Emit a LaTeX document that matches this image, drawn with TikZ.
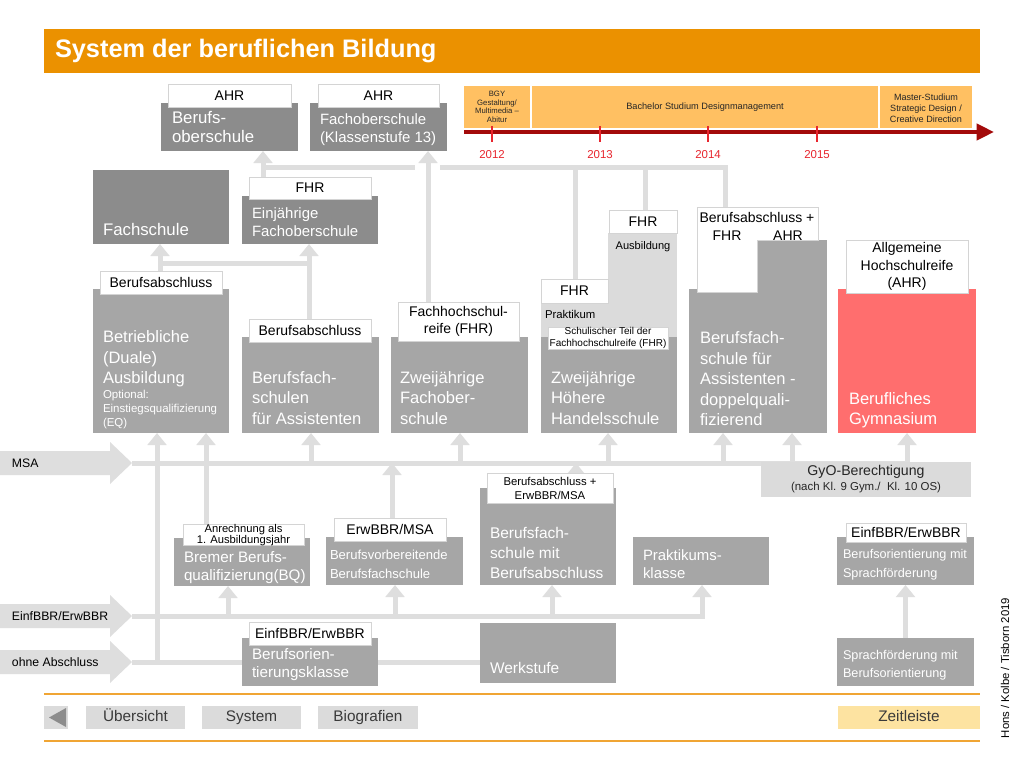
\documentclass[tikz,border=0pt]{standalone}
\usepackage{fontspec}
\setmainfont{Liberation Sans}
\usetikzlibrary{arrows.meta}
\definecolor{dgray}{HTML}{8C8C8C}
\definecolor{mgray}{HTML}{A6A6A6}
\definecolor{lgray}{HTML}{DBDBDB}
\definecolor{lnc}{HTML}{DEDEDE}
\definecolor{bord}{HTML}{D4D4D4}
\definecolor{gymred}{HTML}{FF6E6E}
\definecolor{titor}{HTML}{EB9100}
\definecolor{tlor}{HTML}{FFC062}
\definecolor{dred}{HTML}{A30A0A}
\definecolor{yr}{HTML}{E8262E}
\definecolor{sepc}{HTML}{F0A534}
\definecolor{zeit}{HTML}{FDE3A1}
\definecolor{navtxt}{HTML}{3A3A3A}
\pgfdeclarelayer{back}
\pgfdeclarelayer{bg}
\pgfsetlayers{back,bg,main}
\newcommand\fsz[2]{\fontsize{#1}{#2}\selectfont}
\newcommand\mybox[6][]{\node[anchor=north west, minimum width={(#5-#3)*0.75pt}, minimum height={(#6-#4)*0.75pt}, #1] (#2) at (#3,#4) {};}
\newcommand\mylab[7][]{\node[lbl, anchor=north west, minimum width={(#5-#3)*0.75pt}, minimum height={(#6-#4)*0.75pt}, #1] (#2) at (#3,#4) {#7};}
\tikzset{
  wt/.style={text=white, align=left, anchor=west},
  bigt/.style={wt, font=\fsz{12.4}{15.4}},
  lbl/.style={fill=white, draw=bord, line width=0.75pt, align=center, font=\fsz{10.5}{12.8}},
  gline/.style={draw=lnc, line width=3.75pt},
  garrow/.style={draw=lnc, line width=3.75pt, -{Triangle[width=14pt,length=9pt]}},
  bigarrow/.style={fill=lnc},
  navbtn/.style={lbl, fill=lgray, draw=none, text=navtxt, font=\fsz{11.5}{13}, text height=8.6pt, text depth=2.4pt}
}
\begin{document}
\begin{tikzpicture}[x=0.75pt, y=-0.75pt, every node/.style={inner sep=0pt, outer sep=0pt}]
\useasboundingbox (0,0) rectangle (1024,768);
\begin{pgfonlayer}{back}
\fill[white] (0,0) rectangle (1024,768);
\end{pgfonlayer}

% title
\mybox[fill=titor]{title}{44}{29}{980}{73}
\node[anchor=west, text=white, font=\bfseries\fsz{19}{22}] (titletxt) at (55,51) {System der beruflichen Bildung};

% top row
\mybox[fill=dgray]{bos}{161}{103}{298}{151}
\mylab{ahrA}{168}{84}{291}{107}{AHR}
\node[wt, font=\fsz{12.6}{14.3}] (bost) at (172,127) {Berufs-\\oberschule};
\mybox[fill=dgray]{fos13}{310}{103}{447}{151}
\mylab{ahrB}{318}{84}{439}{107}{AHR}
\node[wt, font=\fsz{11.2}{13.5}] (fos13t) at (320,130) {Fachoberschule\\(Klassenstufe 13)};
\mybox[fill=dgray]{fs}{93}{170}{229}{244}
\node[wt, font=\fsz{12.6}{15}] (fst) at (103,229) {Fachschule};
\mybox[fill=dgray]{ejf}{242}{196}{378}{244}
\mylab{fhrA}{249}{177}{371}{199}{FHR}
\node[wt, font=\fsz{11.2}{13.5}] (ejft) at (252,222) {Einjährige\\Fachoberschule};

% timeline
\mybox[fill=tlor]{bgy}{464}{86}{530}{128}
\node[font=\fsz{5.8}{6.5}, align=center, text=black!85] (bgyt) at (497,107) {BGY\\Gestaltung/\\Multimedia --\\Abitur};
\mybox[fill=tlor]{bach}{532}{86}{878}{128}
\node[font=\fsz{6.9}{8}, text=black!85] (bacht) at (705,107) {Bachelor Studium Designmanagement};
\mybox[fill=tlor]{mast}{880}{86}{972}{128}
\node[font=\fsz{6.8}{8.2}, align=center, text=black!85] (mastt) at (926,108) {Master-Studium\\Strategic Design /\\Creative Direction};
\coordinate (tla) at (464,132);
\coordinate (tlb) at (994,132);
\draw[dred, line width=3pt, -{Triangle[width=12pt,length=13pt]}] (tla) -- (tlb);
\foreach \xx/\yy in {492/2012, 600/2013, 708/2014, 817/2015}{
  \draw[yr, line width=1.5pt] (\xx,126) -- (\xx,142);
  \node[text=yr, font=\fsz{8.6}{10}] (yr\yy) at (\xx,155) {\yy};
}

% middle row
\mybox[fill=mgray]{bda}{93}{289}{229}{433}
\mylab{baA}{100}{271}{222}{294}{Berufsabschluss}
\node[bigt] (bdat) at (103,359) {Betriebliche\\(Duale)\\Ausbildung};
\node[wt, font=\fsz{8.6}{10.5}] (bdas) at (103,410) {Optional:\\Einstiegsqualifizierung\\(EQ)};

\mybox[fill=mgray]{bfsa}{242}{337}{379}{433}
\mylab{baB}{249}{319}{371}{342}{Berufsabschluss}
\node[bigt] (bfsat) at (252,398) {Berufsfach-\\schulen\\für Assistenten};

\mybox[fill=mgray]{zfos}{391}{337}{528}{433}
\mylab{fhrB}{398}{302}{519}{341}{Fachhochschul-\\reife (FHR)}
\node[bigt] (zfost) at (400,398) {Zweijährige\\Fachober-\\schule};

\mybox[fill=lgray]{prak}{541}{303}{608}{337}
\mybox[fill=lgray]{ausb}{608}{233}{677}{337}
\mylab{fhrC}{541}{279}{608}{303}{FHR}
\mylab{fhrD}{609}{210}{677}{233}{FHR}
\node[font=\fsz{8.5}{10}, anchor=west] (prakt) at (545,314) {Praktikum};
\node[font=\fsz{8.3}{10}] (ausbt) at (643,247) {Ausbildung};
\mybox[fill=mgray]{hhs}{541}{337}{677}{433}
\mylab[font=\fsz{7.5}{8.6}]{stl}{548}{327}{668}{349}{Schulischer Teil der\\Fachhochschulreife (FHR)}
\node[bigt] (hhst) at (551,398) {Zweijährige\\Höhere\\Handelsschule};

\mybox[fill=mgray]{bfsd}{689}{289}{827}{433}
\mybox[fill=mgray]{bfsdb}{757}{240}{827}{290}
\path[fill=white, draw=bord, line width=0.75pt] (697,207) -- (818,207) -- (818,240) -- (757,240) -- (757,292) -- (697,292) -- cycle;
\coordinate (bfsdtop) at (725,207);
\node[font=\fsz{10.5}{12}] (bfsdl1) at (757,217) {Berufsabschluss +};
\node[font=\fsz{10.5}{12}] (bfsdl2) at (727,236) {FHR};
\node[font=\fsz{10.5}{12}] (bfsdl3) at (788,236) {AHR};
\node[bigt] (bfsdt) at (700,379) {Berufsfach-\\schule für\\Assistenten -\\doppelquali-\\fizierend};

\mybox[fill=gymred]{gym}{838}{289}{976}{433}
\mylab[font=\fsz{10.5}{13.1}]{ahrC}{846}{240}{968}{293}{Allgemeine\\Hochschulreife\\(AHR)}
\node[bigt] (gymt) at (849,410) {Berufliches\\Gymnasium};

% entry arrows
\path[bigarrow] (0,451) -- (110,451) -- (110,442) -- (132,463) -- (110,484) -- (110,475) -- (0,475) -- cycle;
\coordinate (msa) at (132,463);
\node[anchor=west, font=\fsz{9.2}{11}] (msat) at (12,463) {MSA};
\path[bigarrow] (0,604) -- (110,604) -- (110,595) -- (132,616) -- (110,637) -- (110,628) -- (0,628) -- cycle;
\coordinate (eib) at (132,616);
\node[anchor=west, font=\fsz{9.2}{11}] (eibt) at (12,616) {EinfBBR/ErwBBR};
\path[bigarrow] (0,650) -- (110,650) -- (110,641) -- (132,662) -- (110,683) -- (110,674) -- (0,674) -- cycle;
\coordinate (ohne) at (132,662);
\node[anchor=west, font=\fsz{9.2}{11}] (ohnet) at (12,662) {ohne Abschluss};

% bottom row
\mybox[fill=mgray]{bq}{174}{538}{310}{586}
\mylab[font=\fsz{8.4}{8.6}]{anr}{183}{524}{304}{544}{Anrechnung als\\1. Ausbildungsjahr}
\node[wt, font=\fsz{11.4}{13.5}] (bqt) at (184,568) {Bremer Berufs-\\qualifizierung(BQ)};
\mybox[fill=mgray]{bvb}{326}{537}{463}{585}
\mylab{erw}{334}{518}{446}{541}{ErwBBR/MSA}
\node[wt, font=\fsz{9.8}{14.2}] (bvbt) at (330,564) {Berufsvorbereitende\\Berufsfachschule};
\mybox[fill=mgray]{bfsm}{480}{488}{616}{585}
\mylab[font=\fsz{8.5}{10.5}]{bfsml}{487}{473}{613}{503}{Berufsabschluss +\\ErwBBR/MSA}
\node[wt, font=\fsz{11.6}{15}] (bfsmt) at (490,553) {Berufsfach-\\schule mit\\Berufsabschluss};
\mybox[fill=mgray]{pk}{633}{537}{769}{585}
\node[wt, font=\fsz{11.2}{13.5}] (pkt) at (643,564) {Praktikums-\\klasse};
\mybox[fill=lgray]{gyo}{761}{462}{971}{497}
\node[font=\fsz{10.6}{12}, text=black!85] (gyot1) at (866,472) {GyO-Berechtigung};
\node[font=\fsz{8.6}{10}, text=black!85] (gyot2) at (866,488) {(nach Kl. 9 Gym./\ \ Kl. 10 OS)};
\mybox[fill=mgray]{bosp}{837}{537}{974}{585}
\mylab{eibA}{846}{523}{966}{542}{EinfBBR/ErwBBR}
\node[wt, font=\fsz{9.5}{14.2}] (bospt) at (843,565) {Berufsorientierung mit\\Sprachförderung};
\mybox[fill=mgray]{spr}{837}{638}{974}{686}
\node[wt, font=\fsz{9.5}{13.5}] (sprt) at (843,665) {Sprachförderung mit\\Berufsorientierung};
\mybox[fill=mgray]{bok}{242}{638}{378}{686}
\mylab{eibB}{249}{622}{371}{645}{EinfBBR/ErwBBR}
\node[wt, font=\fsz{11.4}{13.5}] (bokt) at (252,665) {Berufsorien-\\tierungsklasse};
\mybox[fill=mgray]{ws}{480}{623}{616}{683}
\node[wt, font=\fsz{11.6}{14}] (wst) at (490,668) {Werkstufe};

% footer
\coordinate (sepa1) at (44,694); \coordinate (sepa2) at (980,694);
\coordinate (sepb1) at (44,741); \coordinate (sepb2) at (980,741);
\draw[sepc, line width=1.5pt] (sepa1) -- (sepa2);
\draw[sepc, line width=1.5pt] (sepb1) -- (sepb2);
\mybox[fill=lgray]{navback}{44}{706}{68}{729}
\fill[dgray] (49,717.5) -- (66,708) -- (66,727) -- cycle;
\mylab[navbtn]{nav1}{86}{706}{185}{729}{Übersicht}
\mylab[navbtn]{nav2}{202}{706}{301}{729}{System}
\mylab[navbtn]{nav3}{318}{706}{418}{729}{Biografien}
\mylab[navbtn, fill=zeit]{nav4}{838}{706}{980}{729}{Zeitleiste}
\node[rotate=90, font=\fsz{8.5}{10}] (cred) at (1005,668) {Hons / Kolbe / Tisborn 2019};

% helper x / y positions
\foreach \xx in {157,160,206,228,263,309,311,392,395,415,428,440,460,552,575,576,608,645,702,723,725,792,907}{
  \coordinate (x\xx) at (\xx,0);
}
\coordinate (h167) at (0,167);
\coordinate (h263) at (0,263);

% connectors
\begin{pgfonlayer}{bg}
\draw[garrow] (msa) -- (x907 |- msa) -- (x907 |- gym.south);
\draw[garrow] (x311 |- msa) -- (x311 |- bfsa.south);
\draw[garrow] (x460 |- msa) -- (x460 |- zfos.south);
\draw[garrow] (x608 |- msa) -- (x608 |- hhs.south);
\draw[garrow] (x723 |- msa) -- (x723 |- bfsd.south);
\draw[garrow] (x792 |- msa) -- (x792 |- bfsd.south);
\draw[garrow] (x157 |- ohne) -- (x157 |- bda.south);
\draw[garrow] (x206 |- anr.north) -- (x206 |- bda.south);
\draw[garrow] (x392 |- erw.north) -- (x392 |- msa);
\draw[garrow] (x576 |- bfsml.center) -- (x576 |- msa);
\draw[garrow] (eib) -- (x702 |- eib) -- (x702 |- pk.south);
\draw[garrow] (x228 |- eib) -- (x228 |- bq.south);
\draw[garrow] (x395 |- eib) -- (x395 |- bvb.south);
\draw[garrow] (x552 |- eib) -- (x552 |- bfsm.south);
\draw[gline] (ohne) -- (ws.west |- ohne);
\draw[garrow] (spr.north) -- (bosp.south);
\draw[garrow] (x160 |- baA.north) -- (x160 |- fs.south);
\draw[garrow] (x309 |- baB.north) -- (x309 |- ejf.south);
\draw[gline] (x160 |- h263) -- (x309 |- h263);
\draw[garrow] (x263 |- fhrA.north) -- (x263 |- bos.south);
\draw[garrow] (x428 |- fhrB.north) -- (x428 |- fos13.south);
\draw[gline] (x263 |- h167) -- (x415 |- h167);
\draw[gline] (x440 |- h167) -- (x725 |- h167) -- (bfsdtop);
\draw[gline] (x575 |- h167) -- (x575 |- fhrC.north);
\draw[gline] (x645 |- h167) -- (x645 |- fhrD.north);
\end{pgfonlayer}
\end{tikzpicture}
\end{document}
